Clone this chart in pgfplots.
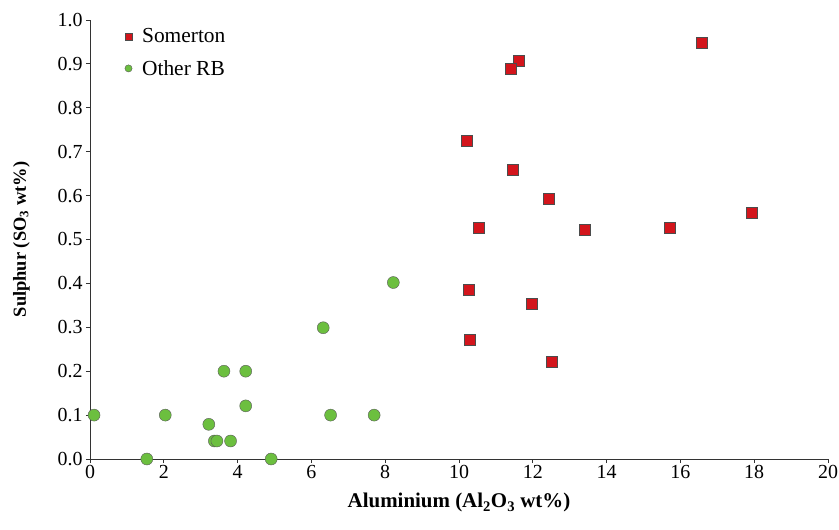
\documentclass[border=0pt]{standalone}
\usepackage{fontspec}
\setmainfont{Liberation Serif}
\usepackage{pgfplots}
\pgfplotsset{compat=1.18}
\definecolor{somred}{HTML}{D3151C}
\definecolor{rbgreen}{HTML}{6CBF3F}
\begin{document}
\begin{tikzpicture}
\useasboundingbox (-90bp,-71bp) rectangle (749bp,459bp);
\begin{axis}[
  at={(0,0)}, anchor=south west,
  scale only axis, width=738bp, height=439bp,
  xmin=0, xmax=20, ymin=0, ymax=1,
  axis x line*=bottom, axis y line*=left,
  axis line style={black!80, line width=0.8pt},
  xtick={0,2,...,20}, ytick={0,0.1,...,1.0},
  tick align=outside, major tick length=4bp,
  tick style={black!80, line width=0.8pt},
  yticklabel style={/pgf/number format/.cd, fixed, fixed zerofill, precision=1},
  /pgf/number format/assume math mode=true,
  ticklabel style={font=\fontsize{20}{24}\selectfont},
  xticklabel style={yshift=1bp},
  xlabel={\textbf{Aluminium (Al\textsubscript{2}O\textsubscript{3} wt\%)}},
  ylabel={\textbf{Sulphur (SO\textsubscript{3} wt\%)}},
  xlabel style={font=\fontsize{21}{24}\selectfont, at={(axis description cs:0.5,-0.100)}, anchor=center},
  ylabel style={font=\fontsize{18.5}{22}\selectfont, at={(axis description cs:-0.093,0.5)}, anchor=center},
  clip=false,
  legend style={draw=none, fill=none, at={(axis cs:0.86,0.99)}, anchor=north west,
    font=\fontsize{21.5}{24}\selectfont, row sep=12bp,
    /tikz/every odd column/.append style={column sep=8bp}},
  legend cell align=left,
]
\addplot[only marks, mark=square*, mark size=5.5bp, mark options={fill=somred, draw=black!70, line width=0.4pt},
  legend image post style={mark size=3.5bp}]
coordinates {
(16.58,0.949) (11.63,0.907) (11.40,0.888) (10.22,0.724) (11.46,0.659)
(12.44,0.592) (10.54,0.526) (13.41,0.522) (15.70,0.526) (17.93,0.562)
(10.27,0.386) (11.96,0.353) (10.28,0.271) (12.52,0.222)
};
\addlegendentry{Somerton}
\addplot[only marks, mark=*, mark size=6bp, mark options={fill=rbgreen, draw=black!65, line width=0.4pt},
  legend image post style={mark size=3.6bp}]
coordinates {
(0.11,0.100) (2.04,0.100) (1.54,0.0) (3.22,0.079) (3.37,0.041) (3.44,0.041)
(3.81,0.041) (3.63,0.200) (4.22,0.200) (4.22,0.121) (4.91,0.0)
(6.52,0.100) (7.70,0.100) (6.32,0.299) (8.22,0.402)
};
\addlegendentry{Other RB}
\end{axis}
\end{tikzpicture}
\end{document}
